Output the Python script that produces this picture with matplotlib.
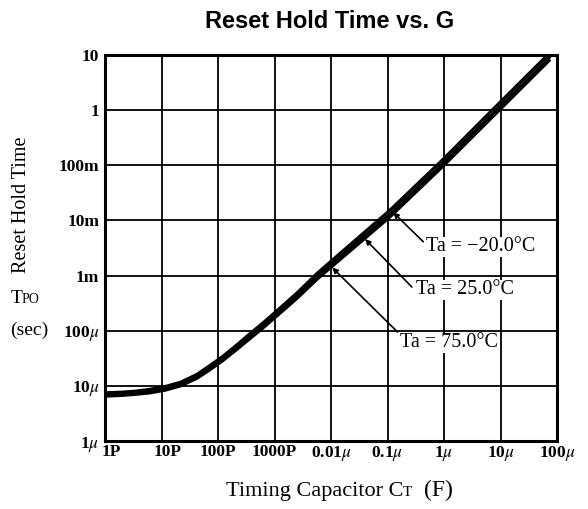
import numpy as np
import matplotlib.pyplot as plt
import matplotlib.transforms as mtransforms

plt.rcParams['mathtext.fontset'] = 'stix'

# capacitance (F) and reset hold time (s)
cap = [1e-12, 2e-12, 3.4e-12, 6e-12, 1.15e-11, 2.2e-11, 4.3e-11, 7e-11, 1.2e-10, 2e-10,
       3.7e-10, 6e-10, 1.07e-9, 2.5e-9, 5.9e-9, 1.1e-7, 9.6e-7, 8.7e-6, 7.6e-5]
t_m20 = [7.5e-6, 7.7e-6, 8.0e-6, 8.6e-6, 9.7e-6, 11.7e-6, 16.3e-6, 23e-6, 34e-6, 52e-6,
         89e-6, 134e-6, 224e-6, 485e-6, 1.14e-3, 15.3e-3, 0.128, 1.23, 11.2]
t_25 = [7.0e-6, 7.2e-6, 7.5e-6, 8.0e-6, 9.0e-6, 10.8e-6, 15e-6, 21e-6, 31e-6, 47e-6,
        80e-6, 120e-6, 200e-6, 430e-6, 1.0e-3, 13e-3, 0.108, 1.03, 9.4]
t_75 = [6.5e-6, 6.7e-6, 7.0e-6, 7.4e-6, 8.3e-6, 10.0e-6, 13.8e-6, 19.2e-6, 28.3e-6, 43e-6,
        72e-6, 108e-6, 180e-6, 385e-6, 0.89e-3, 11.5e-3, 0.096, 0.91, 8.3]

x_ticks = [1e-12, 1e-11, 1e-10, 1e-9, 1e-8, 1e-7, 1e-6, 1e-5, 1e-4]
x_labels = ['1P', '10P', '100P', '1000P', '0.01$\\mu$', '0.1$\\mu$', '1$\\mu$', '10$\\mu$', '100$\\mu$']
y_ticks = [1e-6, 1e-5, 1e-4, 1e-3, 1e-2, 1e-1, 1, 10]
y_labels = ['1$\\mu$', '10$\\mu$', '100$\\mu$', '1m', '10m', '100m', '1', '10']

serif = 'Liberation Serif'
W, H = 588, 509

fig = plt.figure(figsize=(5.88, 5.09), dpi=100)
ax = fig.add_axes([105 / W, 1 - 441 / H, (557 - 105) / W, (441 - 55) / H])

for t in (t_m20, t_25, t_75):
    ax.plot(cap, t, color='black', lw=2.2, solid_capstyle='butt')

ax.set_xscale('log')
ax.set_yscale('log')
ax.set_xlim(1e-12, 1e-4)
ax.set_ylim(1e-6, 10)
ax.set_xticks(x_ticks)
ax.set_xticklabels(x_labels, fontfamily=serif, fontsize=12.5, fontweight='bold')
ax.set_yticks(y_ticks)
ax.set_yticklabels(y_labels, fontfamily=serif, fontsize=12.5, fontweight='bold')
ax.minorticks_off()
ax.tick_params(axis='y', length=0, pad=4)
ax.tick_params(axis='x', length=0, pad=2)
ax.grid(True, color='black', lw=1.3)
for s in ax.spines.values():
    s.set_linewidth(2.2)

# the first two x labels sit a little right of their grid lines
shift = mtransforms.ScaledTranslation(6 / 100, 0, fig.dpi_scale_trans)
for lab in ax.get_xticklabels()[:2]:
    lab.set_transform(lab.get_transform() + shift)

arrow = dict(arrowstyle='-|>', color='black', lw=1.2, mutation_scale=8,
             shrinkA=0, shrinkB=0)
box = dict(fc='white', ec='none', pad=0.5)
# arrows: tip on the curve, tail near the label
ax.annotate('', xy=(1.26e-7, 1.4e-2), xytext=(4.3e-7, 4.1e-3), arrowprops=arrow)
ax.annotate('', xy=(4.0e-8, 4.6e-3), xytext=(2.7e-7, 6.2e-4), arrowprops=arrow)
ax.annotate('', xy=(1.05e-8, 1.4e-3), xytext=(1.5e-7, 9.5e-5), arrowprops=arrow)
ax.text(4.9e-7, 3.3e-3, 'Ta = −20.0°C', fontfamily=serif, fontsize=14.5,
        ha='left', va='center', bbox=box)
ax.text(3.2e-7, 5.5e-4, 'Ta = 25.0°C', fontfamily=serif, fontsize=14.5,
        ha='left', va='center', bbox=box)
ax.text(1.65e-7, 6.0e-5, 'Ta = 75.0°C', fontfamily=serif, fontsize=14.5,
        ha='left', va='center', bbox=box)

fig.text(330 / W, 1 - 21 / H, 'Reset Hold Time vs. G', ha='center', va='center',
         fontfamily='Liberation Sans', fontweight='bold', fontsize=17)
fig.text(22 / W, 1 - 205 / H, 'Reset Hold Time', rotation=90, ha='center',
         va='center', fontfamily=serif, fontsize=14.5)
fig.text(11 / W, 1 - 303 / H, 'T', ha='left', va='baseline', fontfamily=serif, fontsize=14)
fig.text(22 / W, 1 - 303 / H, 'PO', ha='left', va='baseline', fontfamily=serif, fontsize=10)
fig.text(29 / W, 1 - 330 / H, '(sec)', ha='center', va='center', fontfamily=serif, fontsize=14)

fig.text(403 / W, 1 - 496 / H, 'Timing Capacitor C', ha='right', va='baseline',
         fontfamily=serif, fontsize=16)
fig.text(403 / W, 1 - 496 / H, 'T', ha='left', va='baseline', fontfamily=serif, fontsize=11)
fig.text(424 / W, 1 - 496 / H, '(F)', ha='left', va='baseline', fontfamily=serif, fontsize=17)

fig.savefig('out.png', dpi=100)
